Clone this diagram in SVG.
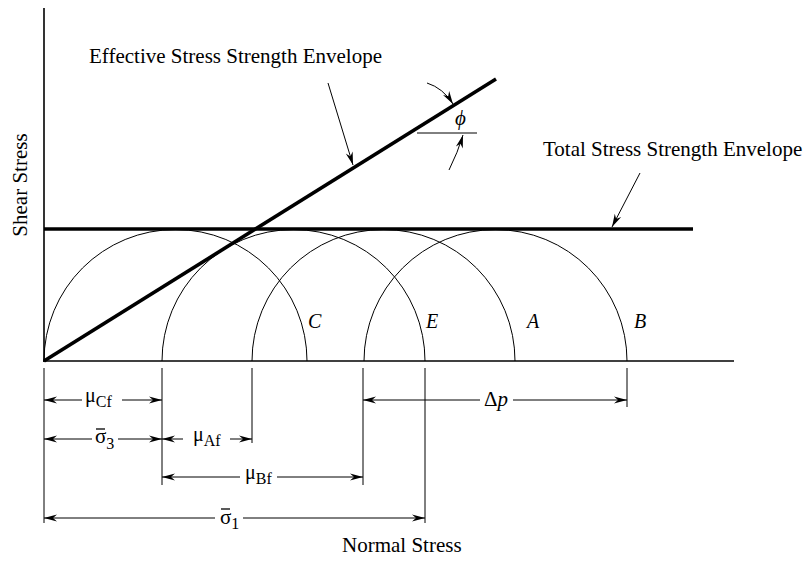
<svg xmlns="http://www.w3.org/2000/svg" width="808" height="564" viewBox="0 0 808 564">
<style>
  .t{font-family:"Liberation Serif","DejaVu Serif",serif;fill:#000}
  .lbl{font-size:21px}
  .it{font-style:italic}
  .thin{stroke:#000;stroke-width:1;fill:none}
  .axis{stroke:#000;stroke-width:1.6;fill:none}
  .thick{stroke:#000;stroke-width:3.6;fill:none;stroke-linecap:butt}
  .dim{stroke:#000;stroke-width:1;fill:none;marker-end:url(#ah)}
  .bar{stroke:#000;stroke-width:1.3;fill:none}
</style>
<defs>
  <marker id="ah" viewBox="-14 -5 15 10" refX="0" refY="0" markerWidth="15" markerHeight="10" orient="auto" markerUnits="userSpaceOnUse">
    <path d="M0,0 L-13,-3.6 L-9,0 L-13,3.6 Z" fill="#000"/>
  </marker>
</defs>
<rect width="808" height="564" fill="#fff"/>

<g id="axes">
  <line class="axis" x1="44" y1="8" x2="44" y2="362"/>
  <line class="axis" x1="43" y1="361" x2="734" y2="361"/>
  <text class="t lbl" transform="translate(27,185) rotate(-90)" text-anchor="middle">Shear Stress</text>
  <text class="t lbl" x="342" y="552">Normal Stress</text>
</g>

<g id="circles">
  <path class="thin" d="M44,361 A131.5,131.5 0 0 1 307,361"/>
  <path class="thin" d="M162,361 A131.5,131.5 0 0 1 425,361"/>
  <path class="thin" d="M252,361 A131.5,131.5 0 0 1 515,361"/>
  <path class="thin" d="M364,361 A131.5,131.5 0 0 1 627,361"/>
  <text class="t it" font-size="20" x="308" y="328">C</text>
  <text class="t it" font-size="20" x="426" y="328">E</text>
  <text class="t it" font-size="20" x="527" y="328">A</text>
  <text class="t it" font-size="20" x="634" y="328">B</text>
</g>

<g id="total-envelope">
  <line class="thick" x1="44" y1="229" x2="693" y2="229"/>
  <text class="t lbl" x="543" y="156">Total Stress Strength Envelope</text>
</g>

<g id="effective-envelope">
  <line class="thick" x1="44" y1="361" x2="496" y2="79"/>
  <text class="t lbl" x="89" y="63">Effective Stress Strength Envelope</text>
  <line class="thin" x1="417" y1="133" x2="477" y2="133"/>
  <text class="t it" font-size="21" x="455" y="125">ϕ</text>
</g>

<g id="connectors">
  <line class="dim" x1="328" y1="83" x2="353" y2="165"/>
  <line class="dim" x1="640" y1="173" x2="612" y2="227"/>
  <path class="dim" d="M427,83 Q443,88 453,104"/>
  <path class="dim" d="M449,170 Q458,152 463,135"/>
</g>

<g id="dimensions">
  <g class="thin">
    <line x1="44" y1="368" x2="44" y2="523"/>
    <line x1="162" y1="368" x2="162" y2="485"/>
    <line x1="252" y1="368" x2="252" y2="443"/>
    <line x1="363" y1="368" x2="363" y2="485"/>
    <line x1="425" y1="368" x2="425" y2="523"/>
    <line x1="627" y1="368" x2="627" y2="407"/>
  </g>
  <!-- mu Cf -->
  <line class="dim" x1="82" y1="400" x2="44" y2="400"/>
  <line class="dim" x1="122" y1="400" x2="162" y2="400"/>
  <text class="t" font-size="20" x="85" y="402">μ<tspan font-size="16" dy="5">Cf</tspan></text>
  <!-- sigma3 -->
  <line class="dim" x1="92" y1="439" x2="44" y2="439"/>
  <line class="dim" x1="118" y1="439" x2="162" y2="439"/>
  <text class="t" font-size="21" x="95" y="443">σ<tspan font-size="16" dy="6">3</tspan></text>
  <line class="bar" x1="96" y1="429" x2="105" y2="429"/>
  <!-- mu Af -->
  <line class="dim" x1="183" y1="439" x2="162" y2="439"/>
  <line class="dim" x1="230" y1="439" x2="252" y2="439"/>
  <text class="t" font-size="20" x="193" y="441">μ<tspan font-size="16" dy="5">Af</tspan></text>
  <!-- mu Bf -->
  <line class="dim" x1="240" y1="477" x2="162" y2="477"/>
  <line class="dim" x1="277" y1="477" x2="363" y2="477"/>
  <text class="t" font-size="20" x="245" y="479">μ<tspan font-size="16" dy="5">Bf</tspan></text>
  <!-- sigma1 -->
  <line class="dim" x1="215" y1="518" x2="44" y2="518"/>
  <line class="dim" x1="243" y1="518" x2="425" y2="518"/>
  <text class="t" font-size="21" x="220" y="524">σ<tspan font-size="16" dy="5">1</tspan></text>
  <line class="bar" x1="221" y1="509" x2="230" y2="509"/>
  <!-- delta p -->
  <line class="dim" x1="480" y1="400" x2="363" y2="400"/>
  <line class="dim" x1="513" y1="400" x2="627" y2="400"/>
  <text class="t" font-size="21" x="484" y="406">Δ<tspan font-style="italic">p</tspan></text>
</g>
</svg>
